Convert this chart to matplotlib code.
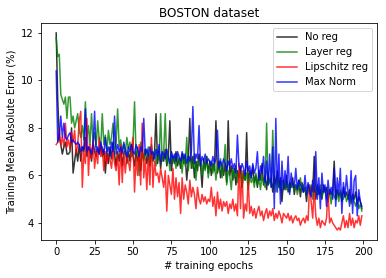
import matplotlib
matplotlib.use("Agg")
import matplotlib.pyplot as plt
import numpy as np

epochs = list(range(200))

no_reg = [
    12.0, 9.2, 7.6, 7.3, 6.9, 7.2, 7.4, 6.9, 6.9, 7.0,
    8.0, 6.1, 6.6, 7.1, 6.6, 7.3, 6.6, 7.2, 7.0, 7.6,
    6.8, 7.2, 7.0, 6.6, 7.4, 7.0, 6.8, 7.1, 6.9, 7.3,
    6.8, 7.1, 6.1, 7.0, 6.5, 7.2, 6.7, 7.4, 6.9, 6.4,
    7.0, 6.6, 7.2, 6.4, 6.9, 7.1, 6.5, 7.0, 6.6, 7.3,
    6.8, 6.4, 7.0, 6.6, 6.9, 6.2, 7.0, 6.7, 7.1, 6.5,
    6.9, 6.4, 7.0, 6.6, 6.9, 8.6, 6.5, 7.0, 6.3, 6.9,
    6.6, 7.1, 6.4, 6.8, 8.3, 6.2, 6.8, 6.5, 7.0, 6.4,
    6.7, 6.3, 6.9, 6.5, 6.8, 5.8, 6.6, 8.4, 6.3, 6.8,
    5.9, 6.6, 6.2, 6.9, 6.4, 5.5, 6.7, 6.3, 6.8, 6.1,
    6.6, 6.0, 6.5, 6.2, 8.3, 6.1, 6.6, 5.9, 6.4, 6.0,
    6.5, 5.7, 8.3, 6.0, 6.4, 5.8, 6.3, 5.6, 6.2, 5.9,
    6.4, 5.5, 6.1, 5.8, 7.8, 5.6, 6.2, 5.9, 6.4, 5.7,
    6.0, 5.5, 6.2, 5.8, 6.5, 5.6, 6.0, 5.4, 6.1, 5.7,
    5.9, 5.3, 6.0, 5.6, 6.2, 5.5, 5.9, 4.9, 5.8, 5.4,
    6.0, 5.3, 5.7, 5.5, 5.9, 5.2, 5.6, 5.4, 5.8, 5.1,
    5.7, 5.3, 5.5, 4.9, 5.6, 5.2, 5.5, 5.3, 6.8, 5.0,
    5.6, 5.2, 5.4, 5.0, 5.6, 5.3, 5.5, 4.9, 5.4, 5.2,
    5.3, 6.6, 5.0, 5.4, 5.1, 5.3, 4.9, 5.5, 5.1, 5.3,
    5.0, 5.4, 4.9, 5.2, 5.0, 5.3, 4.8, 5.1, 4.9, 4.6,
]

layer_reg = [
    11.8, 11.0, 11.1, 9.4, 9.2, 9.0, 9.3, 8.4, 9.3, 9.3,
    8.2, 8.5, 8.0, 8.3, 8.6, 7.9, 7.6, 8.1, 7.5, 9.1,
    7.6, 8.1, 7.3, 8.6, 7.4, 7.8, 7.2, 8.3, 7.5, 7.2,
    8.6, 7.3, 7.7, 7.0, 7.9, 7.3, 7.6, 8.2, 7.1, 7.4,
    8.8, 7.2, 7.5, 7.0, 7.3, 6.9, 7.6, 7.1, 7.4, 6.8,
    7.3, 9.1, 6.9, 7.2, 6.0, 7.4, 7.0, 6.6, 7.1, 6.9,
    7.2, 6.5, 7.3, 6.8, 7.0, 6.4, 7.1, 6.7, 8.6, 6.6,
    7.0, 8.6, 6.5, 6.9, 6.2, 7.0, 6.6, 6.8, 6.3, 6.9,
    6.5, 6.7, 6.1, 6.9, 6.4, 7.6, 6.2, 6.8, 6.5, 6.3,
    6.9, 5.8, 6.6, 6.4, 6.7, 6.0, 6.5, 6.2, 6.8, 5.9,
    6.4, 6.6, 6.1, 6.5, 5.8, 6.4, 6.2, 6.7, 5.9, 6.3,
    7.3, 5.6, 6.2, 6.0, 5.4, 6.3, 5.9, 6.4, 5.7, 6.1,
    6.0, 5.5, 6.2, 5.8, 6.1, 5.4, 6.0, 5.7, 5.9, 5.5,
    6.1, 5.6, 5.9, 5.4, 6.0, 5.7, 5.5, 8.2, 5.6, 5.8,
    5.5, 7.9, 5.7, 5.3, 5.9, 5.6, 5.4, 5.8, 5.5, 5.7,
    5.4, 5.6, 5.3, 5.7, 5.5, 5.4, 5.6, 5.2, 5.5, 5.9,
    5.3, 5.6, 5.4, 5.2, 5.5, 5.3, 5.6, 5.0, 5.4, 5.5,
    5.2, 5.4, 5.6, 5.1, 5.3, 5.5, 5.0, 5.2, 5.4, 4.8,
    5.3, 5.1, 5.0, 5.2, 4.9, 5.4, 5.1, 5.0, 5.3, 4.9,
    5.1, 5.0, 4.8, 5.2, 4.9, 4.7, 5.0, 4.6, 4.8, 4.5,
]

lipschitz_reg = [
    7.3, 7.4, 8.0, 7.3, 7.6, 7.2, 8.2, 7.2, 7.5, 7.1,
    7.8, 7.4, 7.9, 6.9, 7.3, 8.3, 8.7, 5.5, 7.0, 6.5,
    8.4, 6.0, 7.3, 6.7, 7.5, 6.3, 7.0, 6.5, 7.6, 6.8,
    7.2, 6.2, 7.0, 6.5, 6.9, 6.7, 6.3, 7.0, 6.5, 6.2,
    6.9, 5.6, 7.3, 5.7, 7.0, 6.1, 6.8, 6.6, 6.2, 7.1,
    7.6, 5.3, 6.8, 6.0, 7.3, 5.6, 8.2, 5.9, 6.7, 5.4,
    6.9, 5.6, 7.6, 5.5, 6.6, 6.0, 6.1, 5.7, 6.3, 5.9,
    5.5, 6.2, 4.5, 6.0, 5.6, 5.2, 6.3, 5.0, 5.9, 5.1,
    5.7, 4.4, 5.9, 5.0, 5.6, 5.3, 4.8, 5.8, 5.1, 5.5,
    5.2, 4.6, 5.5, 5.0, 4.8, 5.2, 4.9, 5.1, 4.8, 5.0,
    4.9, 5.5, 4.7, 5.1, 4.3, 5.3, 4.6, 5.0, 4.5, 4.9,
    4.7, 4.9, 4.4, 4.8, 4.6, 5.0, 4.5, 4.8, 4.3, 6.5,
    4.6, 6.2, 4.2, 4.8, 4.5, 5.8, 4.4, 4.7, 4.3, 4.6,
    4.2, 4.5, 4.7, 4.3, 4.5, 4.1, 4.4, 4.6, 4.2, 4.5,
    4.3, 4.6, 4.1, 4.4, 4.2, 4.5, 4.3, 4.0, 4.4, 4.3,
    4.2, 4.4, 4.1, 4.3, 4.0, 4.2, 4.3, 4.1, 4.2, 3.9,
    4.1, 4.2, 4.0, 4.3, 4.1, 5.6, 4.9, 4.2, 5.5, 4.3,
    3.9, 4.2, 3.8, 4.1, 4.0, 3.9, 4.2, 5.3, 4.0, 4.2,
    4.0, 3.9, 3.8, 3.7, 3.8, 3.7, 4.0, 4.3, 3.8, 4.1,
    3.8, 4.4, 3.9, 4.2, 3.8, 4.1, 4.0, 4.3, 3.9, 4.3,
]

max_norm = [
    10.4, 7.4, 7.7, 8.5, 7.6, 8.2, 7.6, 7.5, 7.7, 7.8,
    7.4, 7.5, 7.4, 7.3, 7.4, 7.3, 7.0, 7.2, 7.1, 8.8,
    7.0, 7.2, 7.1, 6.9, 7.3, 8.7, 7.0, 7.2, 6.9, 7.4,
    7.1, 6.9, 7.6, 7.0, 7.2, 6.8, 7.4, 7.0, 8.5, 6.9,
    7.3, 7.0, 7.2, 6.9, 7.4, 7.1, 6.8, 7.2, 7.0, 7.3,
    7.0, 6.9, 7.3, 7.1, 6.8, 7.2, 7.0, 8.4, 6.9, 7.1,
    6.8, 7.2, 6.9, 7.0, 6.7, 7.1, 6.8, 7.3, 6.6, 7.0,
    6.9, 6.7, 7.1, 6.8, 6.5, 7.0, 6.7, 6.9, 6.6, 7.0,
    6.8, 6.6, 7.0, 6.7, 6.9, 6.5, 6.8, 6.6, 7.0, 8.9,
    6.5, 6.9, 6.7, 8.1, 6.4, 6.8, 6.6, 6.9, 6.5, 6.7,
    6.6, 6.4, 6.8, 6.5, 6.7, 7.9, 6.3, 6.6, 6.4, 6.7,
    6.5, 6.2, 6.6, 6.4, 6.7, 6.3, 6.5, 6.1, 7.7, 6.4,
    6.2, 6.5, 6.3, 6.0, 6.6, 6.2, 6.4, 5.9, 6.5, 6.1,
    6.3, 7.0, 5.8, 6.4, 6.1, 6.8, 5.7, 6.6, 5.6, 6.9,
    5.5, 7.2, 4.6, 8.4, 5.3, 6.9, 4.8, 6.6, 5.4, 6.2,
    5.5, 6.8, 5.2, 6.1, 5.6, 5.5, 6.3, 5.4, 5.8, 5.6,
    5.5, 5.3, 6.0, 5.2, 5.7, 5.4, 5.1, 5.8, 5.3, 7.0,
    5.0, 5.9, 4.6, 6.1, 5.3, 5.6, 4.7, 5.8, 5.2, 5.5,
    5.0, 6.3, 4.7, 5.9, 5.2, 6.3, 4.4, 5.7, 5.1, 6.0,
    5.3, 4.7, 6.2, 4.4, 5.8, 6.0, 4.3, 5.4, 4.9, 4.7,
]

series = [
    ("No reg", no_reg, "k"),
    ("Layer reg", layer_reg, "g"),
    ("Lipschitz reg", lipschitz_reg, "r"),
    ("Max Norm", max_norm, "b"),
]

fig = plt.figure(figsize=(386 / 72, 278 / 72), dpi=72)
ax = fig.add_axes([0.106, 0.137, 0.871, 0.780])
for name, vals, c in series:
    ax.plot(epochs, vals, color=c, label=name, alpha=0.8, linewidth=1.5)

ax.set_xticks([0, 25, 50, 75, 100, 125, 150, 175, 200])
ax.set_yticks([4, 6, 8, 10, 12])
ax.set_title("BOSTON dataset", fontsize=12)
ax.set_xlabel("# training epochs", fontsize=10)
ax.set_ylabel("Training Mean Absolute Error (%)", fontsize=10)
ax.tick_params(labelsize=10)
ax.legend(loc="upper right", fontsize=10)
fig.savefig("out.png", dpi=72)
